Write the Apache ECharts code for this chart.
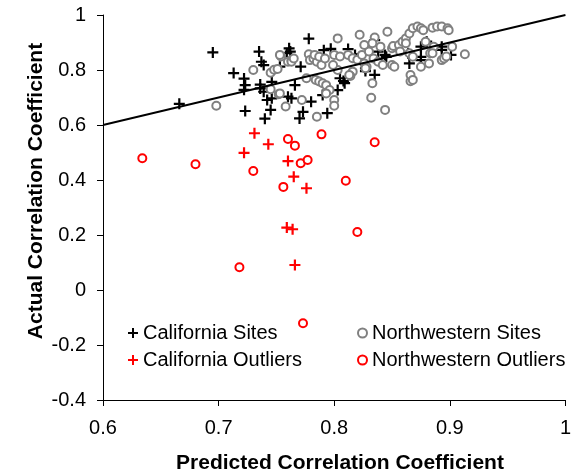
<!DOCTYPE html>
<html>
<head>
<meta charset="utf-8">
<script src="https://cdn.jsdelivr.net/npm/echarts@6/dist/echarts.min.js"></script>
<style>
  html, body { margin: 0; padding: 0; background: #fff; }
  #chart { width: 574px; height: 476px; }
</style>
</head>
<body>
<div id="chart"></div>
<script>
// Axis ticks
const xTicks = [0.6, 0.7, 0.8, 0.9, 1];
const yTicks = [-0.4, -0.2, 0, 0.2, 0.4, 0.6, 0.8, 1];

// 1:1 reference line (predicted = actual)
const identityLine = [[0.6, 0.6], [1.0, 1.0]];

// [predicted, actual] correlation coefficients
const californiaSites = [
  [0.666,0.677],[0.695,0.864],[0.713,0.789],[0.722,0.769],[0.722,0.728],[0.723,0.745],[0.723,0.651],
  [0.735,0.867],[0.737,0.830],[0.739,0.818],[0.736,0.747],[0.736,0.733],[0.739,0.721],[0.742,0.691],
  [0.745,0.655],[0.740,0.623],[0.746,0.757],[0.746,0.697],[0.753,0.812],[0.759,0.861],[0.760,0.703],
  [0.761,0.879],[0.762,0.867],[0.763,0.697],[0.766,0.745],[0.771,0.812],[0.773,0.648],[0.770,0.624],
  [0.778,0.914],[0.780,0.685],[0.790,0.709],[0.791,0.872],[0.794,0.643],[0.797,0.877],
  [0.803,0.727],[0.805,0.770],[0.808,0.760],[0.809,0.752],[0.812,0.876],[0.818,0.855],[0.820,0.842],
  [0.827,0.806],[0.827,0.796],[0.835,0.782],[0.835,0.909],[0.838,0.867],[0.844,0.855],[0.845,0.848],
  [0.864,0.861],[0.865,0.824],[0.875,0.885],[0.875,0.848],[0.875,0.836],[0.880,0.903],[0.893,0.885],
  [0.893,0.873],[0.901,0.855]
];

const northwesternSites = [
  [0.698,0.670],[0.730,0.800],[0.745,0.790],[0.748,0.801],[0.751,0.804],[0.754,0.849],[0.745,0.730],
  [0.752,0.712],[0.758,0.667],[0.760,0.830],[0.753,0.855],[0.763,0.836],[0.763,0.830],[0.765,0.842],
  [0.778,0.857],[0.779,0.836],[0.782,0.842],[0.785,0.830],[0.789,0.818],[0.776,0.770],[0.784,0.764],
  [0.787,0.758],[0.790,0.752],[0.793,0.745],[0.796,0.727],[0.793,0.715],[0.800,0.691],[0.800,0.670],
  [0.785,0.630],[0.753,0.715],[0.772,0.691],[0.803,0.915],[0.800,0.855],[0.803,0.800],[0.799,0.818],
  [0.805,0.849],[0.812,0.855],[0.816,0.843],[0.820,0.837],[0.822,0.928],[0.824,0.855],[0.830,0.867],
  [0.835,0.918],[0.833,0.897],[0.826,0.891],[0.840,0.885],[0.846,0.939],[0.826,0.824],[0.828,0.812],
  [0.816,0.794],[0.814,0.778],[0.833,0.752],[0.832,0.699],[0.844,0.655],[0.834,0.842],[0.838,0.830],
  [0.842,0.818],[0.850,0.818],[0.852,0.812],[0.850,0.879],[0.851,0.887],[0.856,0.891],[0.859,0.903],
  [0.862,0.915],[0.865,0.933],[0.862,0.897],[0.868,0.952],[0.872,0.958],[0.875,0.952],[0.877,0.945],
  [0.885,0.954],[0.889,0.958],[0.893,0.958],[0.898,0.952],[0.899,0.945],[0.879,0.903],[0.886,0.885],
  [0.902,0.885],[0.857,0.867],[0.865,0.861],[0.868,0.848],[0.883,0.861],[0.885,0.861],[0.893,0.836],
  [0.895,0.842],[0.897,0.849],[0.875,0.812],[0.882,0.824],[0.913,0.857],[0.866,0.759],[0.866,0.782],
  [0.868,0.764],[0.813,0.782],[0.827,0.806],[0.783,0.855],[0.787,0.848],[0.792,0.842]
];

const californiaOutliers = [
  [0.731,0.570],[0.743,0.530],[0.722,0.499],[0.760,0.469],[0.765,0.412],[0.776,0.370],
  [0.759,0.227],[0.764,0.221],[0.766,0.091]
];

const northwesternOutliers = [
  [0.634,0.479],[0.680,0.457],[0.730,0.433],[0.760,0.549],[0.756,0.375],[0.766,0.525],
  [0.789,0.566],[0.835,0.537],[0.771,0.461],[0.777,0.473],[0.810,0.397],[0.820,0.211],
  [0.718,0.083],[0.773,-0.121]
];

const FONT = '"Liberation Sans", Arial, sans-serif';
const PLUS = 'path://M0,4H10V6H0Z M4,0H6V10H4Z';

const chart = echarts.init(document.getElementById('chart'), null, { renderer: 'canvas' });

const tickStep = (arr) => +(arr[1] - arr[0]).toFixed(6);

chart.setOption({
  animation: false,
  backgroundColor: '#ffffff',
  textStyle: { fontFamily: FONT },
  grid: { left: 103, right: 5, top: 15, bottom: 76, containLabel: false },
  xAxis: {
    type: 'value',
    min: xTicks[0], max: xTicks[xTicks.length - 1], interval: tickStep(xTicks),
    axisLine: { onZero: false, lineStyle: { color: '#000', width: 1 } },
    axisTick: { show: true, inside: false, length: 6, lineStyle: { color: '#000' } },
    axisLabel: { margin: 18, fontSize: 20, color: '#000', fontFamily: FONT,
      formatter: (v) => String(+v.toFixed(2)) },
    splitLine: { show: false }
  },
  yAxis: {
    type: 'value',
    min: yTicks[0], max: yTicks[yTicks.length - 1], interval: tickStep(yTicks),
    axisLine: { show: true, onZero: false, lineStyle: { color: '#000', width: 1 } },
    axisTick: { show: true, inside: false, length: 6, lineStyle: { color: '#000' } },
    axisLabel: { margin: 17, fontSize: 20, color: '#000', fontFamily: FONT,
      formatter: (v) => String(+v.toFixed(2)) },
    splitLine: { show: false }
  },
  legend: [
    {
      orient: 'vertical', left: 128, top: 323, padding: 0, itemGap: 7,
      itemWidth: 10, itemHeight: 10,
      textStyle: { fontSize: 20, color: '#000', fontFamily: FONT },
      data: ['California Sites', 'California Outliers']
    },
    {
      orient: 'vertical', left: 357, top: 323, padding: 0, itemGap: 7,
      itemWidth: 9, itemHeight: 9,
      textStyle: { fontSize: 20, color: '#000', fontFamily: FONT },
      data: ['Northwestern Sites', 'Northwestern Outliers']
    }
  ],
  graphic: [
    {
      type: 'text', x: 36, y: 191, rotation: Math.PI / 2,
      style: { text: 'Actual Correlation Coefficient', font: 'bold 21px ' + FONT,
        fill: '#000', textAlign: 'center', textVerticalAlign: 'middle' }
    },
    {
      type: 'text', x: 340, y: 463,
      style: { text: 'Predicted Correlation Coefficient', font: 'bold 21px ' + FONT,
        fill: '#000', textAlign: 'center', textVerticalAlign: 'middle' }
    }
  ],
  series: [
    {
      name: 'California Sites', type: 'scatter', data: californiaSites,
      symbol: PLUS, symbolSize: 11,
      itemStyle: { color: '#000', opacity: 1 }
    },
    {
      name: 'Northwestern Sites', type: 'scatter', data: northwesternSites,
      symbol: 'emptyCircle', symbolSize: 8,
      itemStyle: { color: '#808080', borderColor: '#808080', borderWidth: 1.6, opacity: 1 }
    },
    {
      name: 'California Outliers', type: 'scatter', data: californiaOutliers,
      symbol: PLUS, symbolSize: 11,
      itemStyle: { color: '#ff0000', opacity: 1 }
    },
    {
      name: 'Northwestern Outliers', type: 'scatter', data: northwesternOutliers,
      symbol: 'emptyCircle', symbolSize: 8,
      itemStyle: { color: '#ff0000', borderColor: '#ff0000', borderWidth: 1.6, opacity: 1 }
    },
    {
      type: 'line', data: identityLine, symbol: 'none', silent: true,
      lineStyle: { color: '#000', width: 1.8 }, z: 5
    }
  ]
});
</script>
</body>
</html>
